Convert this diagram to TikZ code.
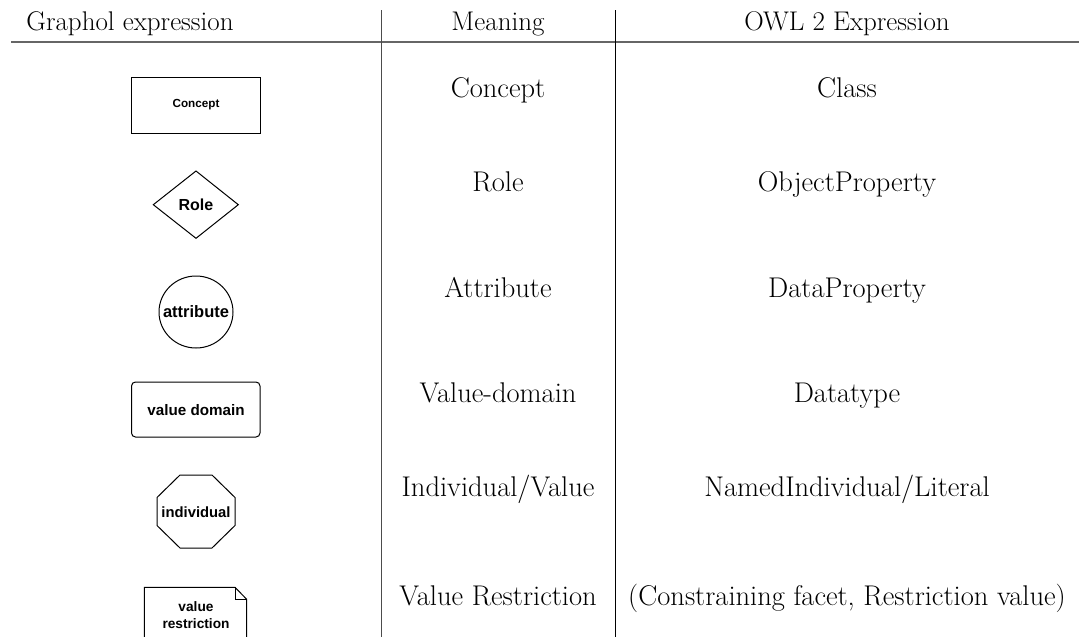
\documentclass[tikz,border=0pt]{standalone}
\usepackage{fontspec}
\newfontfamily\shapefont{Liberation Sans}
\tikzset{
  x=1pt, y=-1pt,
  shp/.style={draw=black, line width=1pt, fill=white},
  stxt/.style={font=\shapefont\bfseries\fontsize{#1}{#1}\selectfont, align=center, inner sep=0pt},
  ttxt/.style={font=\fontsize{28.5}{30}\selectfont, anchor=base, inner sep=0pt},
  htxt/.style={font=\fontsize{27}{30}\selectfont, anchor=base, inner sep=0pt},
  rule/.style={line width=2pt, draw=black!60}
}
\begin{document}
\begin{tikzpicture}
\useasboundingbox (0,0) rectangle (1079,637);
% rules
\draw[rule] (11,42) -- (1079,42);
\draw[line width=1pt, draw=black!70] (381,10) -- (381,637);
\draw[line width=1pt] (615,10) -- (615,637);
% headers
\node[htxt] (h1) at (130,30) {Graphol expression};
\node[htxt] (h2) at (498,30) {Meaning};
\node[htxt] (h3) at (847,30) {OWL 2 Expression};
% shapes
\draw[shp] (131.5,77) rectangle (260,133);
\node[stxt=11.7] (c) at (196,105) {Concept};
\draw[shp] (153.3,204.7) -- (196,171) -- (238.3,204.7) -- (196,238.3) -- cycle;
\node[stxt=16] (r) at (196,204.7) {Role};
\draw[shp] (196,312) ellipse [x radius=37, y radius=36];
\node[stxt=16.5] (a) at (196,312) {attribute};
\draw[shp, rounded corners=4pt] (131.5,382) rectangle (260,437);
\node[stxt=15.2] (v) at (196,410) {value domain};
\draw[shp] (180,475) -- (212,475) -- (235,497.5) -- (235,525.5) -- (212,548) -- (180,548) -- (157,525.5) -- (157,497.5) -- cycle;
\node[stxt=14.8] (i) at (196,512) {individual};
\begin{scope}
\clip (0,0) rectangle (1079,637);
\draw[shp] (144.3,645) -- (144.3,587.3) -- (235,587.3) -- (246.7,599.3) -- (246.7,645);
\draw[line width=0.8pt] (235,587.3) -- (235,599.3) -- (246.7,599.3);
\end{scope}
\node[stxt=13.7, font=\shapefont\bfseries\fontsize{13.7}{16.7}\selectfont] (vr) at (196,615) {value\\restriction};
% meaning
\node[ttxt] (m1) at (498,97) {Concept};
\node[ttxt] (m2) at (498,191) {Role};
\node[ttxt] (m3) at (498,297) {Attribute};
\node[ttxt] (m4) at (498,402) {Value-domain};
\node[ttxt] (m5) at (498,496) {Individual/Value};
\node[ttxt] (m6) at (498,605) {Value Restriction};
% owl
\node[ttxt] (o1) at (847,97) {Class};
\node[ttxt] (o2) at (847,191) {ObjectProperty};
\node[ttxt] (o3) at (847,297) {DataProperty};
\node[ttxt] (o4) at (847,402) {Datatype};
\node[ttxt] (o5) at (847,496) {NamedIndividual/Literal};
\node[ttxt] (o6) at (847,605) {(Constraining facet, Restriction value)};
\end{tikzpicture}
\end{document}
